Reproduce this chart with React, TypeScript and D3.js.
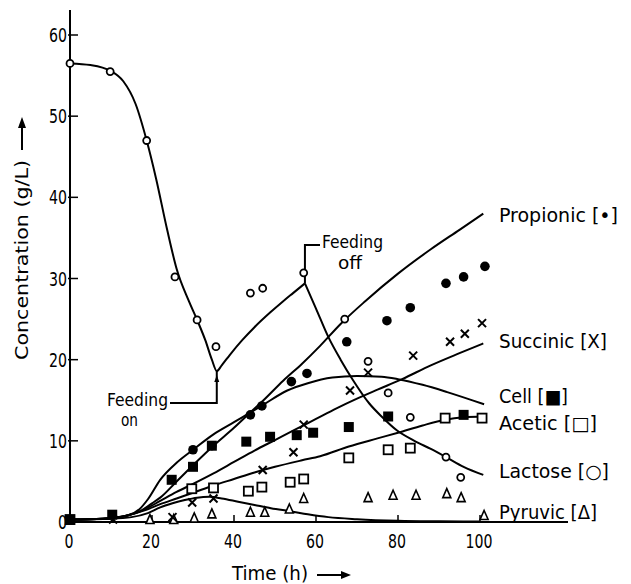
import React from 'react';
import * as d3 from 'd3';

// measured points (time h, concentration g/L)
const lactosePts = [[0,56.5],[9.8,55.5],[18.7,47],[25.6,30.2],[31,24.9],[35.6,21.6],[44,28.2],[47,28.8],[57,30.7],[67,25],[72.7,19.8],[77.6,15.9],[83,12.9],[91.7,8],[95.3,5.5]];
const propionicPts = [[0,0.3],[30,8.9],[34.6,9.4],[44,13.2],[46.8,14.3],[54,17.3],[57.8,18.3],[67.5,22.2],[77.3,24.8],[83,26.4],[91.7,29.4],[96,30.2],[101.2,31.5]];
const cellPts = [[0,0.3],[10.3,0.9],[24.8,5.2],[30,6.8],[34.6,9.4],[43,9.9],[48.8,10.5],[55.3,10.7],[59.3,11],[68,11.7],[77.6,13],[96,13.2]];
const succinicPts = [[0,0.2],[10.5,0.3],[25,0.6],[29.8,2.4],[35,2.9],[47,6.4],[54.5,8.6],[57,12],[68.3,16.2],[72.7,18.4],[83.7,20.5],[92.7,22.2],[96.3,23.2],[100.5,24.5]];
const aceticPts = [[0,0.3],[29.7,4.1],[35,4.2],[43.5,3.8],[46.8,4.3],[53.7,4.9],[57,5.3],[68,7.9],[77.6,8.9],[83,9.1],[91.5,12.8],[100.5,12.8]];
const pyruvicPts = [[19.5,0.3],[25.3,0.3],[30.3,0.5],[34.6,1],[44,1.2],[47.5,1.2],[53.5,1.6],[57,2.9],[72.7,3],[78.8,3.3],[84.4,3.3],[91.9,3.5],[95.4,3],[101,0.8]];

// fitted model curves as drawn
const lactoseFitFed = [[0,56.5],[5,56.3],[9.8,55.6],[13,54.3],[16,51.5],[18.7,47],[21,42.3],[23.7,36],[26,31.2],[29,27.2],[31,24.9],[33,22.4],[34.6,20],[35.8,18.6],[37,19.3],[39,20.6],[42,22.4],[45,24],[48.8,25.8],[52,27.2],[54.4,28.2],[57.3,29.4]];
const lactoseFitOff = [[57.3,29.4],[60,26.3],[63,22.8],[66,20],[69,17.5],[73,14.6],[76,13],[79.7,11.3],[84,10],[88,9],[91.7,8],[96,6.8],[100.8,5.8]];
const propionicFit = [[0,0.3],[8,0.4],[14,0.8],[17,1.3],[20,2.3],[22,3],[26,5],[30,7],[35,9.4],[40,11.6],[44,13.5],[47,14.9],[52,17.4],[56.6,19.5],[61,21.7],[66,24.4],[72,27.2],[80,30.6],[88,33.6],[95,36],[100.8,38]];
const cellFit = [[0,0.3],[8,0.4],[14,0.8],[17,1.6],[19,2.8],[22,5.2],[26,7.3],[30,8.9],[35,10.8],[40,12.3],[44,13.5],[47,14.4],[53,16.2],[58,17.1],[64,17.8],[70,18],[76,17.9],[80,17.6],[86,16.9],[92,16],[101,14.5]];
const succinicFit = [[0,0.3],[8,0.4],[14,0.8],[18,1.5],[22,2.6],[26,3.7],[30,4.7],[35,6],[40,7.4],[45,8.8],[50,10.1],[55,11.4],[60,12.7],[65,14],[70,15.2],[75,16.3],[81,17.6],[88,19.3],[95,20.8],[100.8,22]];
const aceticFit = [[0,0.3],[8,0.4],[14,0.8],[18,1.4],[22,2.2],[26,2.9],[30,3.6],[35,4.5],[40,5.3],[45,6.1],[50,6.8],[56.6,7.6],[61,8.1],[68,9.3],[75,10.3],[80,11],[86,11.9],[91.5,12.6],[96,12.9],[101,13]];
const pyruvicFit = [[0,0.3],[10,0.4],[15,0.6],[19,1.1],[22,1.8],[25,2.3],[28,2.7],[31,3],[34,3.1],[37,2.9],[41,2.5],[45,2.1],[49,1.7],[54,1.3],[58,0.95],[63,0.6],[70,0.35],[80,0.15],[90,0.08],[100,0.05]];

const xTicks = [0, 20, 40, 60, 80, 100];
const yTicks = [0, 10, 20, 30, 40, 50, 60];

const seriesLabels = ['Propionic [•]', 'Succinic [X]', 'Cell [■]', 'Acetic [□]', 'Lactose [○]', 'Pyruvic [Δ]'];
const labelValues = [37.8, 22.3, 15.5, 12.2, 6.3, 1.2];

const feedOnTime = 35.8;
const feedOffTime = 57.3;

const FONT = "'Liberation Sans Narrow', 'DejaVu Sans Condensed', 'Liberation Sans', sans-serif";

export default function App() {
  const width = 631, height = 584;
  const x = d3.scaleLinear().domain([0, 100]).range([70, 480]);
  const y = d3.scaleLinear().domain([0, 60]).range([522, 35]);

  const line = d3.line<number[]>()
    .x(d => x(d[0]))
    .y(d => y(d[1]))
    .curve(d3.curveMonotoneX);

  const fits = [lactoseFitFed, lactoseFitOff, propionicFit, cellFit, succinicFit, aceticFit, pyruvicFit];
  const labelW = [119, 108, 69, 98, 110, 98];

  const tri = (cx: number, cy: number) => `M${cx},${cy - 5}L${cx + 4},${cy + 4}L${cx - 4},${cy + 4}Z`;

  const fx = x(feedOnTime), fy = y(18.6);
  const ox = x(feedOffTime), oy = y(29.4);

  return (
    <svg width={width} height={height} style={{ position: 'absolute', left: 0, top: 0, background: '#fff' }}>
      <rect width={width} height={height} fill="#fff" />
      {/* axes */}
      <line x1={70} x2={70} y1={10} y2={523} stroke="#000" strokeWidth={2} />
      <line x1={69} x2={568} y1={522} y2={522} stroke="#000" strokeWidth={2} />
      {yTicks.map(t => (
        <g key={'y' + t}>
          <line x1={68} x2={78} y1={y(t)} y2={y(t)} stroke="#000" strokeWidth={1.5} />
          <text x={67} y={y(t) + 7} textAnchor="end" fontFamily={FONT} fontSize={20}
            textLength={String(t).length * 9} lengthAdjust="spacingAndGlyphs">{t}</text>
        </g>
      ))}
      {xTicks.map(t => (
        <g key={'x' + t}>
          <line x1={x(t)} x2={x(t)} y1={522} y2={515} stroke="#000" strokeWidth={1.5} />
          <text x={x(t) - 1} y={548} textAnchor="middle" fontFamily={FONT} fontSize={20}
            textLength={String(t).length * 9} lengthAdjust="spacingAndGlyphs">{t}</text>
        </g>
      ))}
      <text x={232} y={580} fontFamily={FONT} fontSize={20} textLength={76} lengthAdjust="spacingAndGlyphs">Time  (h)</text>
      <line x1={317} x2={343} y1={575} y2={575} stroke="#000" strokeWidth={2} />
      <path d="M351,575L341,571L341,579Z" fill="#000" />
      <text transform="translate(28,360) rotate(-90)" fontFamily={FONT} fontSize={18} textLength={200} lengthAdjust="spacingAndGlyphs">Concentration  (g/L)</text>
      <line x1={22} x2={22} y1={150} y2={126} stroke="#000" strokeWidth={2} />
      <path d="M22,117L18,128L26,128Z" fill="#000" />

      {/* fitted curves */}
      {fits.map((f, i) => (
        <path key={'f' + i} d={line(f) || ''} fill="none" stroke="#000" strokeWidth={2} />
      ))}

      {/* feeding annotations */}
      <polyline points={`${fx},${fy} ${fx},403 170,403`} fill="none" stroke="#000" strokeWidth={2} />
      <path d={`M${fx},${fy + 4}L${fx - 2.5},${fy + 11}L${fx + 2.5},${fy + 11}Z`} fill="#000" />
      <text x={107} y={406} fontFamily={FONT} fontSize={18} textLength={61} lengthAdjust="spacingAndGlyphs">Feeding</text>
      <text x={121} y={426} fontFamily={FONT} fontSize={17} textLength={17} lengthAdjust="spacingAndGlyphs">on</text>
      <polyline points={`${ox},${oy} ${ox},245 320,245`} fill="none" stroke="#000" strokeWidth={2} />
      <text x={322} y={248} fontFamily={FONT} fontSize={17} textLength={61} lengthAdjust="spacingAndGlyphs">Feeding</text>
      <text x={338} y={269} fontFamily={FONT} fontSize={17} textLength={24} lengthAdjust="spacingAndGlyphs">off</text>

      {/* markers */}
      {aceticPts.map((d, i) => (
        <rect key={'a' + i} x={x(d[0]) - 4.5} y={y(d[1]) - 4.5} width={9} height={9} fill="#fff" stroke="#000" strokeWidth={1.8} />
      ))}
      {pyruvicPts.map((d, i) => (
        <path key={'p' + i} d={tri(x(d[0]), y(d[1]))} fill="#fff" stroke="#000" strokeWidth={1.6} />
      ))}
      {lactosePts.map((d, i) => (
        <circle key={'l' + i} cx={x(d[0])} cy={y(d[1])} r={3.5} fill="#fff" stroke="#000" strokeWidth={1.8} />
      ))}
      {cellPts.map((d, i) => (
        <rect key={'c' + i} x={x(d[0]) - 5} y={y(d[1]) - 5} width={10} height={10} fill="#000" />
      ))}
      {propionicPts.map((d, i) => (
        <circle key={'r' + i} cx={x(d[0])} cy={y(d[1])} r={4.8} fill="#000" />
      ))}
      {succinicPts.map((d, i) => {
        const cx = x(d[0]), cy = y(d[1]);
        return (
          <path key={'s' + i} d={`M${cx - 4},${cy - 4}L${cx + 4},${cy + 4}M${cx + 4},${cy - 4}L${cx - 4},${cy + 4}`} stroke="#000" strokeWidth={2} />
        );
      })}

      {/* series labels */}
      {seriesLabels.map((s, i) => (
        <text key={s} x={499} y={y(labelValues[i]) + 7} fontFamily={FONT} fontSize={19} textLength={labelW[i]} lengthAdjust="spacingAndGlyphs">{s}</text>
      ))}
    </svg>
  );
}
